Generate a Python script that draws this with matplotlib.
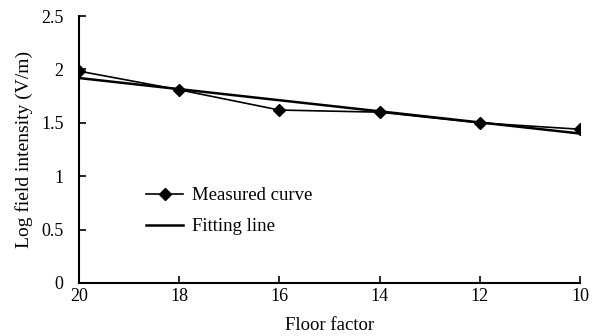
import matplotlib
matplotlib.use("Agg")
import matplotlib.pyplot as plt

floor_factor = [20, 18, 16, 14, 12, 10]
measured = [1.985, 1.81, 1.62, 1.60, 1.50, 1.44]
fitting = [1.92, 1.816, 1.712, 1.608, 1.504, 1.40]
yticks = [0, 0.5, 1, 1.5, 2, 2.5]
ytick_labels = ["0", "0.5", "1", "1.5", "2", "2.5"]

plt.rcParams["font.family"] = ["Liberation Serif", "DejaVu Serif"]
plt.rcParams["font.size"] = 13.5

fig = plt.figure(figsize=(5.93, 3.36), dpi=100)
ax = fig.add_axes([0.133, 0.158, 0.845, 0.794])

ax.plot(floor_factor, measured, color="black", lw=1.2, marker="D", ms=6,
        label="Measured curve")
ax.plot(floor_factor, fitting, color="black", lw=1.8, label="Fitting line")

ax.set_xlim(20, 10)
ax.set_ylim(0, 2.5)
ax.set_xticks(floor_factor)
ax.set_yticks(yticks)
ax.set_yticklabels(ytick_labels)
ax.tick_params(direction="in", length=5, width=1.2, colors="black", labelsize=13)
ax.tick_params(axis="x", pad=4)
ax.tick_params(axis="y", pad=11)
for s in ["top", "right"]:
    ax.spines[s].set_visible(False)
for s in ["left", "bottom"]:
    ax.spines[s].set_linewidth(1.5)

ax.set_xlabel("Floor factor", fontsize=13.5, labelpad=8)
ax.set_ylabel("Log field intensity (V/m)", fontsize=14, labelpad=6)

ax.legend(loc="lower left", bbox_to_anchor=(0.10, 0.115), frameon=False,
          handlelength=2.0, handletextpad=0.45, fontsize=13.5, labelspacing=0.75)

fig.savefig("out.png", dpi=100)
